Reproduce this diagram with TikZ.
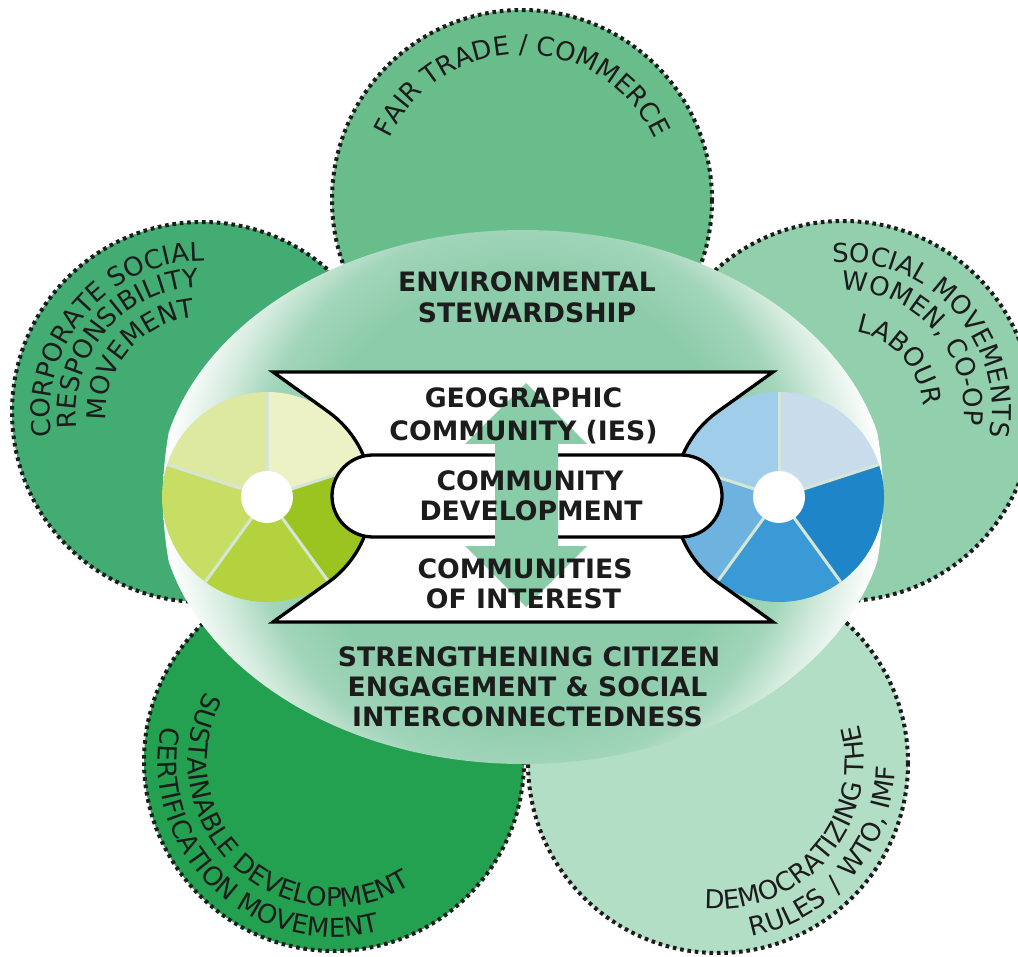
\documentclass[tikz,border=0pt]{standalone}
\usepackage{fontspec}
\setmainfont{DejaVu Sans}
\usetikzlibrary{decorations.text}
\definecolor{ptop}{RGB}{104,189,138}
\definecolor{pleft}{RGB}{66,172,114}
\definecolor{pright}{RGB}{146,207,172}
\definecolor{pbl}{RGB}{35,160,80}
\definecolor{pbr}{RGB}{178,222,198}
\definecolor{ellA}{RGB}{140,204,170}
\definecolor{ellB}{RGB}{162,213,186}
\definecolor{ellC}{RGB}{214,236,223}
\definecolor{arrowg}{RGB}{136,205,168}
\definecolor{txt}{RGB}{28,28,28}
\definecolor{sepc}{RGB}{214,230,214}
\definecolor{lga}{RGB}{236,241,198}
\definecolor{lgb}{RGB}{221,232,160}
\definecolor{lgc}{RGB}{200,221,100}
\definecolor{lgd}{RGB}{180,210,62}
\definecolor{lge}{RGB}{156,196,32}
\definecolor{bla}{RGB}{200,220,236}
\definecolor{blb}{RGB}{160,205,234}
\definecolor{blc}{RGB}{110,178,223}
\definecolor{bld}{RGB}{58,154,214}
\definecolor{ble}{RGB}{30,133,200}
\pgfdeclareradialshading{ellshade}{\pgfpoint{0bp}{0bp}}{color(0bp)=(ellA); color(15bp)=(ellA); color(19bp)=(ellB); color(22bp)=(ellC); color(25bp)=(white); color(50bp)=(white)}
\newcommand{\petalfnt}{\fontsize{26}{30}\selectfont}
\newcommand{\boxfnt}{\fontsize{26.7}{31}\selectfont\bfseries}
\tikzset{
 petal/.style={line width=4, draw=txt, dash pattern=on 3.6pt off 3.8pt},
 petaltext/.style={decorate, decoration={text along path, text={|\petalfnt|#1}, text align=center, text color=txt}},
 ctext/.style={anchor=base, font=\boxfnt, text=txt, inner sep=0},
 boxline/.style={draw=black, line width=3.3, fill=white, line join=miter}
}
\begin{document}
\begin{tikzpicture}[x=1pt,y=-1pt]
\useasboundingbox (0,0) rectangle (1018,957);
\fill[white] (0,0) rectangle (1018,957);
% petals
\filldraw[petal, fill=ptop] (522,200) circle[radius=190];
\filldraw[petal, fill=pleft] (202,412) circle[radius=190];
\filldraw[petal, fill=pright] (843,411) circle[radius=190];
\filldraw[petal, fill=pbr] (718,763) circle[radius=190];
\filldraw[petal, fill=pbl] (334,761) circle[radius=190];
% central ellipse
\begin{scope}
\clip (523,497) ellipse [x radius=365, y radius=267];
\shade[shading=ellshade] (523,497) circle[radius=360];
\end{scope}
% pies
\foreach \a/\b/\c in {-90/-18/lga, -162/-90/lgb, 126/198/lgc, 54/126/lgd, -18/54/lge}
  \fill[\c] (267,497) -- ++(\a:105) arc[start angle=\a, end angle=\b, radius=105] -- cycle;
\foreach \a/\b/\c in {-90/-18/bla, -162/-90/blb, 126/198/blc, 54/126/bld, -18/54/ble}
  \fill[\c] (779,497) -- ++(\a:105) arc[start angle=\a, end angle=\b, radius=105] -- cycle;
\foreach \a in {-90,-18,54,126,198}{
  \draw[sepc, line width=3] (267,497) -- ++(\a:105);
  \draw[sepc, line width=3] (779,497) -- ++(\a:105);
}
\fill[white] (267,497) circle[radius=26];
\fill[white] (779,497) circle[radius=26];
% hourglass box
\path[boxline] (273,372) -- (773,372) -- (717.7,411.7) arc[start angle=-125.71, end angle=-234.29, radius=105]
  -- (773,622) -- (273,622) -- (328.3,582.3) arc[start angle=54.29, end angle=-54.29, radius=105] -- cycle;
% rounded box
\path[boxline, rounded corners=41] (332,455) rectangle (722,537);
% double arrow
\fill[arrowg] (526,383) -- (587,444) -- (558,444) -- (558,546) -- (587,546) -- (526,607)
  -- (465,546) -- (495,546) -- (495,444) -- (465,444) -- cycle;
% central texts
\node[ctext] (env1) at (527,292) {ENVIRONMENTAL};
\node[ctext] (env2) at (527,323) {STEWARDSHIP};
\node[ctext] (geo1) at (523.5,408) {GEOGRAPHIC};
\node[ctext] (geo2) at (523.5,441) {COMMUNITY (IES)};
\node[ctext] (cd1) at (530,490) {COMMUNITY};
\node[ctext] (cd2) at (531,521) {DEVELOPMENT};
\node[ctext] (coi1) at (525,578) {COMMUNITIES};
\node[ctext] (coi2) at (523.5,608) {OF INTEREST};
\node[ctext] (sc1) at (529,666) {STRENGTHENING CITIZEN};
\node[ctext] (sc2) at (527.5,696) {ENGAGEMENT \& SOCIAL};
\node[ctext] (sc3) at (527.5,726) {INTERCONNECTEDNESS};
% petal texts
\path[petaltext={FAIR TRADE / COMMERCE}] (522,200) ++(-170:146) arc[start angle=-170, end angle=-10, radius=146];
\path[petaltext={CORPORATE SOCIAL}] (203,414) ++(145:153) arc[start angle=145, end angle=297, radius=153];
\path[petaltext={RESPONSIBILITY}] (203,414) ++(145:127) arc[start angle=145, end angle=297, radius=127];
\path[petaltext={MOVEMENT}] (203,414) ++(145:97) arc[start angle=145, end angle=297, radius=97];
\path[petaltext={SOCIAL MOVEMENTS}] (843,411) ++(-115:149) arc[start angle=-115, end angle=31, radius=149];
\path[petaltext={WOMEN, CO-OP}] (843,411) ++(-115:121) arc[start angle=-115, end angle=31, radius=121];
\path[petaltext={LABOUR}] (843,411) ++(-115:80) arc[start angle=-115, end angle=31, radius=80];
\path[petaltext={SUSTAINABLE DEVELOPMENT}] (334,761) ++(220:146) arc[start angle=220, end angle=46, radius=146];
\path[petaltext={CERTIFICATION MOVEMENT}] (334,761) ++(220:176) arc[start angle=220, end angle=46, radius=176];
\path[petaltext={DEMOCRATIZING THE}] (718,763) ++(125:146) arc[start angle=125, end angle=-45, radius=146];
\path[petaltext={RULES{\kern12pt}/{\kern12pt}WTO, IMF}] (718,763) ++(125:177) arc[start angle=125, end angle=-45, radius=177];
\end{tikzpicture}
\end{document}
